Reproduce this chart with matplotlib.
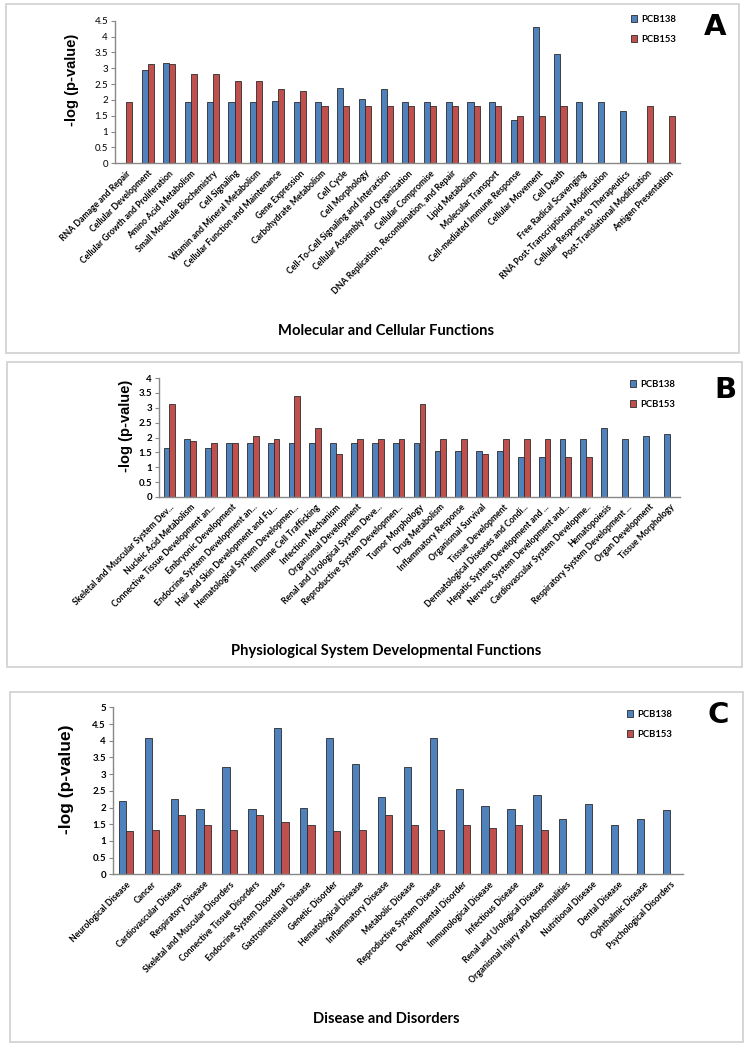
import numpy as np
import matplotlib
matplotlib.use("Agg")
import matplotlib.pyplot as plt
from matplotlib.patches import Rectangle, Patch

nan = np.nan

# Panel A - Molecular and Cellular Functions
catsA = ["RNA Damage and Repair", "Cellular Development", "Cellular Growth and Proliferation",
         "Amino Acid Metabolism", "Small Molecule Biochemistry", "Cell Signaling",
         "Vitamin and Mineral Metabolism", "Cellular Function and Maintenance", "Gene Expression",
         "Carbohydrate Metabolism", "Cell Cycle", "Cell Morphology",
         "Cell-To-Cell Signaling and Interaction", "Cellular Assembly and Organization",
         "Cellular Compromise", "DNA Replication, Recombination, and Repair", "Lipid Metabolism",
         "Molecular Transport", "Cell-mediated Immune Response", "Cellular Movement", "Cell Death",
         "Free Radical Scavenging", "RNA Post-Transcriptional Modification",
         "Cellular Response to Therapeutics", "Post-Translational Modification",
         "Antigen Presentation"]
pcb138A = [nan, 2.96, 3.15, 1.94, 1.94, 1.94, 1.94, 1.97, 1.94, 1.94, 2.38, 2.02, 2.36,
           1.94, 1.94, 1.94, 1.94, 1.94, 1.37, 4.29, 3.45, 1.94, 1.94, 1.66, nan, nan]
pcb153A = [1.94, 3.12, 3.12, 2.82, 2.82, 2.60, 2.60, 2.33, 2.28, 1.80, 1.80, 1.80, 1.80,
           1.80, 1.80, 1.80, 1.80, 1.80, 1.48, 1.48, 1.80, nan, nan, nan, 1.80, 1.48]

# Panel B - Physiological System Developmental Functions
catsB = ["Skeletal and Muscular System Dev...", "Nucleic Acid Metabolism",
         "Connective Tissue Development an...", "Embryonic Development",
         "Endocrine System Development an...", "Hair and Skin Development and Fu...",
         "Hematological System Developmen...", "Immune Cell Trafficking", "Infection Mechanism",
         "Organismal Development", "Renal and Urological System Deve...",
         "Reproductive System Developmen...", "Tumor Morphology", "Drug Metabolism",
         "Inflammatory Response", "Organismal Survival", "Tissue Development",
         "Dermatological Diseases and Condi...", "Hepatic System Development and ...",
         "Nervous System Development and...", "Cardiovascular System Developme..",
         "Hematopoiesis", "Respiratory System Development ...", "Organ Development",
         "Tissue Morphology"]
pcb138B = [1.66, 1.96, 1.66, 1.81, 1.81, 1.81, 1.81, 1.81, 1.81, 1.81, 1.81, 1.81, 1.81,
           1.53, 1.53, 1.53, 1.53, 1.34, 1.34, 1.96, 1.96, 2.32, 1.96, 2.05, 2.13]
pcb153B = [3.13, 1.87, 1.81, 1.81, 2.05, 1.96, 3.41, 2.32, 1.45, 1.96, 1.96, 1.96, 3.13,
           1.96, 1.96, 1.45, 1.96, 1.96, 1.96, 1.34, 1.34, nan, nan, nan, nan]

# Panel C - Disease and Disorders
catsC = ["Neurological Disease", "Cancer", "Cardiovascular Disease", "Respiratory Disease",
         "Skeletal and Muscular Disorders", "Connective Tissue Disorders",
         "Endocrine System Disorders", "Gastrointestinal Disease", "Genetic Disorder",
         "Hematological Disease", "Inflammatory Disease", "Metabolic Disease",
         "Reproductive System Disease", "Developmental Disorder", "Immunological Disease",
         "Infectious Disease", "Renal and Urological Disease",
         "Organismal Injury and Abnormalities", "Nutritional Disease", "Dental Disease",
         "Ophthalmic Disease", "Psychological Disorders"]
pcb138C = [2.19, 4.09, 2.26, 1.95, 3.22, 1.95, 4.39, 1.98, 4.09, 3.31, 2.31, 3.20, 4.09,
           2.54, 2.04, 1.96, 2.37, 1.65, 2.10, 1.49, 1.65, 1.93]
pcb153C = [1.30, 1.33, 1.78, 1.48, 1.33, 1.78, 1.56, 1.48, 1.30, 1.33, 1.78, 1.49, 1.32,
           1.49, 1.40, 1.49, 1.32, nan, nan, nan, nan, nan]

W, H = 749, 1050
BLUE = "#4F81BD"
RED = "#C0504D"
EDGE = "#2b2b2b"
LBLFONT = ["Lato", "DejaVu Sans"]

fig = plt.figure(figsize=(W / 100, H / 100), dpi=100)


def fx(x):
    return x / W


def fy(y):
    return 1 - y / H


def caja(x0, y0, x1, y1):
    fig.patches.append(Rectangle((fx(x0), fy(y1)), fx(x1 - x0), (y1 - y0) / H,
                                 transform=fig.transFigure, fill=False,
                                 edgecolor="#cfcfcf", lw=1.2))


def panel(rect, cats, v1, v2, ymax, letra, titulo, ylab_x, ylab_fs, titulo_y, leg_xy, letra_xy,
          tick_bold):
    x0, ytop, x1, ybot = rect
    ax = fig.add_axes([fx(x0), fy(ybot), fx(x1 - x0), (ybot - ytop) / H])
    n = len(cats)
    x = np.arange(n)
    w = 0.28
    ax.bar(x - w / 2, v1, w, color=BLUE, edgecolor=EDGE, lw=0.6, label="PCB138")
    ax.bar(x + w / 2, v2, w, color=RED, edgecolor=EDGE, lw=0.6, label="PCB153")
    ax.set_xlim(-0.5, n - 0.5)
    ax.set_ylim(0, ymax)
    ax.set_yticks(np.arange(0, ymax + 0.01, 0.5))
    ax.set_yticklabels(["%g" % t for t in np.arange(0, ymax + 0.01, 0.5)],
                       fontsize=7, fontweight="bold" if tick_bold else "normal",
                       family=LBLFONT)
    ax.set_xticks(x)
    ax.set_xticklabels(cats, rotation=45, ha="right", rotation_mode="anchor",
                       fontsize=6.2, fontweight="bold", family=LBLFONT)
    ax.tick_params(axis="x", length=0, pad=4)
    ax.tick_params(axis="y", length=3, width=0.8, color="#888888", pad=2)
    for s in ["top", "right"]:
        ax.spines[s].set_visible(False)
    for s in ["left", "bottom"]:
        ax.spines[s].set_color("#888888")
        ax.spines[s].set_linewidth(1.0)

    fig.text(fx(ylab_x), fy((ytop + ybot) / 2 - 12), "-log (p-value)", rotation=90,
             ha="center", va="center", fontsize=ylab_fs, fontweight="bold",
             family=["Liberation Sans", "DejaVu Sans"])
    fig.text(fx(386), fy(titulo_y), titulo, ha="center", va="center",
             fontsize=10.6, fontweight="bold", family=LBLFONT)
    fig.text(fx(letra_xy[0]), fy(letra_xy[1]), letra, ha="center", va="center",
             fontsize=21, fontweight="heavy", family="DejaVu Sans")

    handles = [Patch(facecolor=BLUE, edgecolor=EDGE, lw=0.6, label="PCB138"),
               Patch(facecolor=RED, edgecolor=EDGE, lw=0.6, label="PCB153")]
    fig.legend(handles=handles, loc="upper left",
               bbox_to_anchor=(fx(leg_xy[0]), fy(leg_xy[1])),
               frameon=False, handlelength=0.7, handleheight=0.7,
               handletextpad=0.4, labelspacing=1.15, borderpad=0,
               prop={"size": 6.8, "weight": "bold", "family": LBLFONT})
    return ax


# cajas de cada panel
caja(6, 4, 739, 353)
caja(7, 362, 742, 667)
caja(10, 692, 743, 1042)

panel((115, 20.7, 680, 163.3), catsA, pcb138A, pcb153A, 4.5, "A",
      "Molecular and Cellular Functions", 72, 10.5, 331, (626, 10), (715, 27), False)
panel((159, 378, 680, 497), catsB, pcb138B, pcb153B, 4.0, "B",
      "Physiological System Developmental Functions", 126, 10.5, 651, (625, 375), (725, 390), True)
panel((113, 707.3, 683, 874.3), catsC, pcb138C, pcb153C, 5.0, "C",
      "Disease and Disorders", 67, 12.5, 1019, (622, 705), (718, 715), True)

plt.savefig("out.png", dpi=100)
